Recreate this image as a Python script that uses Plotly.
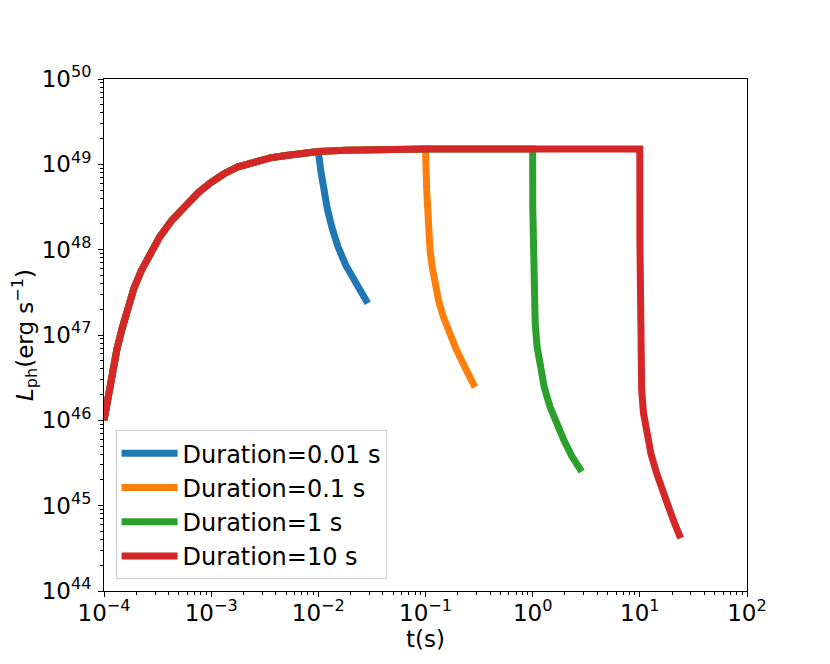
import plotly.graph_objects as go

# rising part, shared by every run (red curve covers the others up to their cut)
t_rise = [1.000e-4, 1.072e-4, 1.175e-4, 1.318e-4, 1.479e-4, 1.660e-4, 1.905e-4,
          2.239e-4, 2.692e-4, 3.311e-4, 4.266e-4, 5.623e-4, 7.586e-4, 1.000e-3,
          1.318e-3, 1.778e-3, 2.512e-3, 3.548e-3, 5.012e-3, 7.079e-3,
          1.0e-2, 1.778e-2, 3.162e-2, 0.1, 0.316, 1.0, 3.16, 10.0]
L_rise = [1.00e46, 1.70e46, 3.39e46, 6.76e46, 1.20e47, 2.04e47, 3.55e47,
          5.75e47, 9.12e47, 1.41e48, 2.19e48, 3.24e48, 4.68e48, 6.17e48,
          7.76e48, 9.33e48, 1.07e49, 1.19e49, 1.27e49, 1.35e49,
          1.41e49, 1.46e49, 1.49e49, 1.51e49, 1.51e49, 1.51e49, 1.51e49, 1.51e49]

durations = [0.01, 0.1, 1, 10]
names = ["Duration=0.01 s", "Duration=0.1 s", "Duration=1 s", "Duration=10 s"]
colors = ["#1f77b4", "#ff7f0e", "#2ca02c", "#d62728"]

# decay after the engine switches off
t_tail_001 = [0.01054, 0.01119, 0.01211, 0.01340, 0.01524, 0.01803, 0.02239, 0.02891]
L_tail_001 = [8.45e48, 5.07e48, 3.04e48, 1.82e48, 1.09e48, 6.56e47, 3.93e47, 2.36e47]

t_tail_01 = [0.1026, 0.1047, 0.1069, 0.1102, 0.1154, 0.1227, 0.1321, 0.1466,
             0.1675, 0.1954, 0.236, 0.2897]
L_tail_01 = [5.01e48, 2.04e48, 1.42e48, 9.89e47, 6.31e47, 4.07e47, 2.57e47, 1.64e47,
             1.05e47, 6.61e46, 4.07e46, 2.45e46]

t_tail_1 = [1.002, 1.012, 1.035, 1.056, 1.100, 1.168, 1.281, 1.448, 1.658, 1.952,
            2.317, 2.867]
L_tail_1 = [3.16e48, 5.25e47, 2.57e47, 1.37e47, 7.29e46, 4.26e46, 2.46e46, 1.45e46,
            9.23e45, 5.89e45, 3.82e45, 2.50e45]

t_tail_10 = [10.01, 10.03, 10.15, 10.40, 10.81, 11.59, 12.71, 14.35, 16.1, 18.45,
             21.0, 24.04]
L_tail_10 = [1.29e48, 8.71e46, 4.47e46, 2.29e46, 1.22e46, 7.08e45, 4.03e45, 2.40e45,
             1.51e45, 9.77e44, 6.31e44, 4.17e44]

tails = [(t_tail_001, L_tail_001), (t_tail_01, L_tail_01),
         (t_tail_1, L_tail_1), (t_tail_10, L_tail_10)]

x_exp = [-4, -3, -2, -1, 0, 1, 2]
y_exp = [44, 45, 46, 47, 48, 49, 50]

fig = go.Figure()
for dur, name, col, (tt, ll) in zip(durations, names, colors, tails):
    t = [v for v in t_rise if v <= dur] + tt
    L = [l for v, l in zip(t_rise, L_rise) if v <= dur] + ll
    fig.add_trace(go.Scatter(x=t, y=L, mode="lines", name=name,
                             line=dict(color=col, width=7)))

font = dict(family="DejaVu Sans", size=23, color="black")
legend_font = dict(family="DejaVu Sans", size=24, color="black")


def sup(e):
    return "10<sup>%s</sup>" % str(e).replace("-", "\u2212")


common = dict(
    type="log", tickmode="array",
    ticks="outside", ticklen=5, tickwidth=1, tickcolor="black",
    minor=dict(ticks="outside", ticklen=3, tickwidth=1, tickcolor="black",
               dtick="D1", showgrid=False),
    showline=True, linecolor="black", linewidth=1, mirror=True,
    showgrid=False, zeroline=False, tickfont=font, automargin=False,
)
fig.update_xaxes(
    range=[-4, 2],
    tickvals=[10.0 ** e for e in x_exp],
    ticktext=[sup(e) for e in x_exp],
    ticklabelstandoff=-4,
    title=dict(text="t(s)", font=font, standoff=0),
    **common,
)
fig.update_yaxes(
    range=[44, 50],
    tickvals=[10.0 ** e for e in y_exp],
    ticktext=[sup(e) for e in y_exp],
    ticklabelstandoff=2,
    title=dict(text="<i>L</i><sub>ph</sub>(erg s<sup>\u22121</sup>)", font=font, standoff=8),
    **common,
)

# page body adds an 8px offset, margins compensate for it
fig.update_layout(
    width=830, height=664,
    margin=dict(l=96, r=91, t=71, b=81),
    paper_bgcolor="white", plot_bgcolor="white",
    font=font,
    showlegend=True,
    legend=dict(x=0.018, y=0.023, xanchor="left", yanchor="bottom",
                bgcolor="rgba(255,255,255,0.8)", bordercolor="#cccccc", borderwidth=1,
                font=legend_font, itemwidth=56),
)

fig.write_html("out.html")
